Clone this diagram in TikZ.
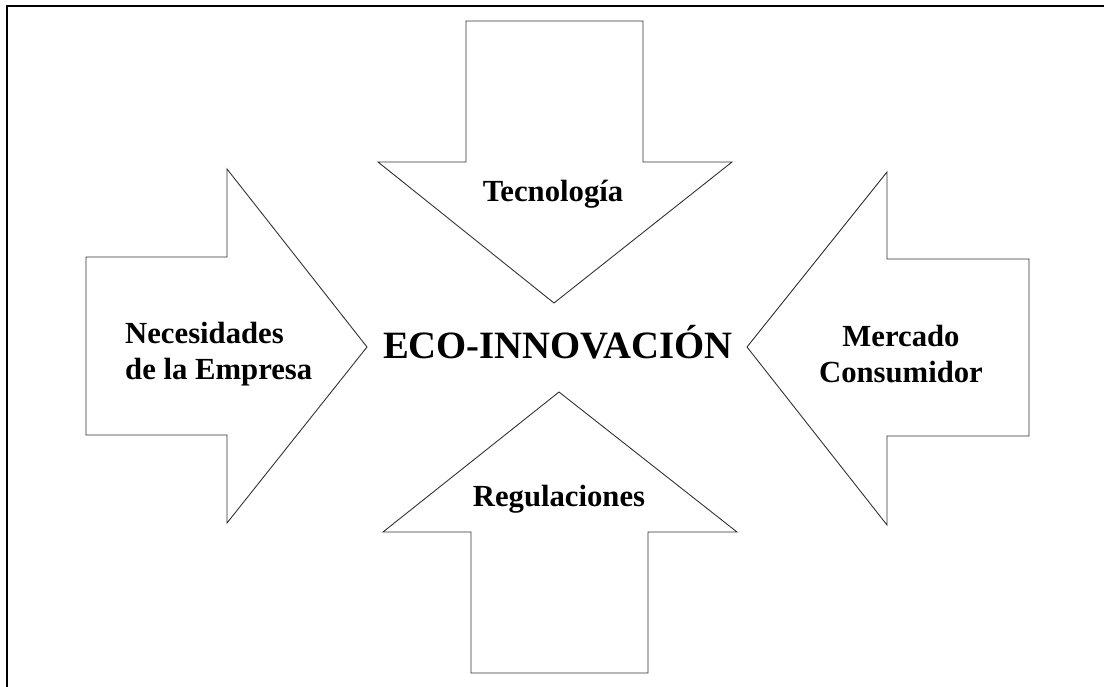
\documentclass[tikz,border=0pt]{standalone}
\usepackage{fontspec}
\setmainfont{Liberation Serif}
\begin{document}
\begin{tikzpicture}[x=1pt,y=-1pt,
  bigarrow/.style={draw=black!80,line width=0.9pt,line join=miter,fill=white},
  frameline/.style={draw=black,line width=1.8pt},
  lbl/.style={font=\fontsize{30.7}{36}\selectfont\bfseries,inner sep=0pt,align=center},
  mainlbl/.style={font=\fontsize{38.7}{44}\selectfont\bfseries,inner sep=0pt}]
\useasboundingbox (0,0) rectangle (1104,687);
% frame
\coordinate (fbl) at (7,688);
\coordinate (ftl) at (7,6);
\coordinate (ftr) at (1105,6);
\draw[frameline] (fbl) -- (ftl) -- (ftr);
% top arrow
\draw[bigarrow] (466,21) -- (643,21) -- (643,162) -- (732,162) -- (554,303) -- (378,162) -- (466,162) -- cycle;
% bottom arrow
\draw[bigarrow] (471,673) -- (648,673) -- (648,532) -- (737,532) -- (559,392) -- (383,532) -- (471,532) -- cycle;
% left arrow
\draw[bigarrow] (86,257) -- (227,257) -- (227,169) -- (367,347) -- (227,523) -- (227,435) -- (86,435) -- cycle;
% right arrow
\draw[bigarrow] (1029,259) -- (887,259) -- (887,172) -- (747,347) -- (887,525) -- (887,436) -- (1029,436) -- cycle;
% labels
\node[lbl,anchor=base] (tec) at (553,202) {Tecnología};
\node[lbl,anchor=base] (reg) at (559,506) {Regulaciones};
\node[lbl,anchor=west,align=left] (nec) at (125,354) {Necesidades\\de la Empresa};
\node[lbl,anchor=center] (mer) at (901,354) {Mercado\\Consumidor};
\node[mainlbl,anchor=base] (eco) at (558,358) {ECO-INNOVACIÓN};
\end{tikzpicture}
\end{document}
